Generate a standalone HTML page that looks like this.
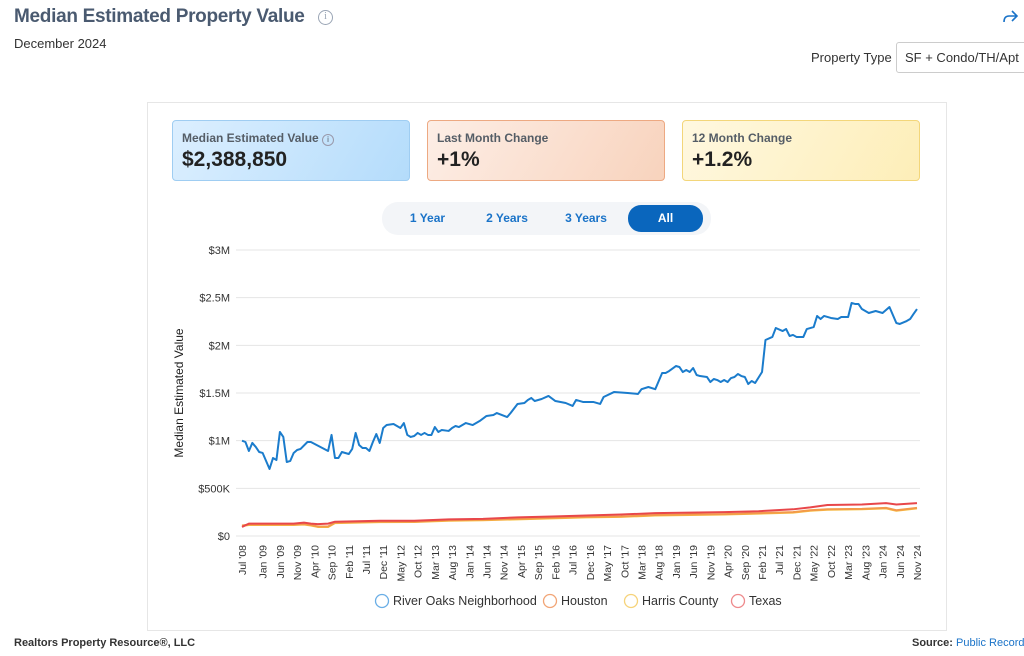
<!DOCTYPE html>
<html><head><meta charset="utf-8">
<style>
*{box-sizing:border-box;margin:0;padding:0}
body{width:1024px;height:656px;background:#fff;font-family:"Liberation Sans",sans-serif;position:relative;overflow:hidden;color:#333}
.abs{position:absolute}
.kpi{position:absolute;top:120px;width:238px;height:61px;border-radius:4px;border:1px solid}
.kpi .l{position:absolute;left:9px;top:10px;font-size:12px;font-weight:bold;color:#555d66}
.kpi .v{position:absolute;left:9px;top:27px;font-size:21px;font-weight:bold;color:#222}
.tab{position:absolute;top:206px;height:25px;line-height:25px;text-align:center;font-size:12px;font-weight:bold;color:#1a73c8;border-radius:13px}
</style></head><body>
<div class="abs" style="left:14px;top:6px;font-size:19px;letter-spacing:-0.3px;font-weight:bold;color:#4a5a70;white-space:nowrap">Median Estimated Property Value</div>
<div class="abs" style="left:318px;top:10px;width:15px;height:15px;border:1.5px solid #9aa5b5;border-radius:50%;font-size:10px;color:#9aa5b5;text-align:center;line-height:12px;font-family:'Liberation Serif',serif">i</div>
<div class="abs" style="left:14px;top:36px;font-size:13px;color:#333">December 2024</div>
<svg class="abs" style="left:1001px;top:9px" width="18" height="16" viewBox="0 0 18 16"><path d="M11 2 L16 7 L11 12 M16 7 H8 Q3 7 3 13" fill="none" stroke="#1a73c8" stroke-width="1.6"/></svg>
<div class="abs" style="left:811px;top:50px;font-size:13px;color:#333">Property Type</div>
<div class="abs" style="left:896px;top:42px;width:140px;height:31px;border:1px solid #ccc;border-radius:3px;font-size:13px;line-height:29px;padding-left:8px;color:#333;white-space:nowrap">SF + Condo/TH/Apt</div>

<div class="abs" style="left:147px;top:102px;width:800px;height:529px;border:1px solid #e6e6e6"></div>

<div class="kpi" style="left:172px;background:linear-gradient(120deg,#dcefff,#b4dcfb);border-color:#9fcdf2"><div class="l">Median Estimated Value <span style="display:inline-block;width:12px;height:12px;border:1px solid #99a;border-radius:50%;font-size:8px;text-align:center;line-height:10px;font-weight:normal">i</span></div><div class="v">$2,388,850</div></div>
<div class="kpi" style="left:427px;background:linear-gradient(120deg,#fdeee6,#f8d3bd);border-color:#eda982"><div class="l">Last Month Change</div><div class="v">+1%</div></div>
<div class="kpi" style="left:682px;background:linear-gradient(120deg,#fff8e0,#fdeeb8);border-color:#f3d67a"><div class="l">12 Month Change</div><div class="v">+1.2%</div></div>

<div class="abs" style="left:382px;top:202px;width:329px;height:33px;background:#f3f5f8;border-radius:16px"></div>
<div class="tab" style="left:395px;width:65px">1 Year</div>
<div class="tab" style="left:472px;width:70px">2 Years</div>
<div class="tab" style="left:550px;width:72px">3 Years</div>
<div class="tab" style="left:628px;width:75px;background:#0a66bd;color:#fff;top:205px;height:27px;line-height:27px">All</div>

<svg class="abs" id="chart" style="left:0;top:0" width="1024" height="656"></svg>

<div class="abs" style="left:14px;top:637px;font-size:11px;font-weight:bold;color:#333">Realtors Property Resource®, LLC</div>
<div class="abs" style="left:912px;top:637px;font-size:11px;color:#333;white-space:nowrap"><b>Source:</b> <span style="color:#1a73c8">Public Records and</span></div>

<script>
const yTicks=[0,500,1000,1500,2000,2500,3000];
const yTickLabels=["$0","$500K","$1M","$1.5M","$2M","$2.5M","$3M"];
const xTickMonths=[0,6,11,16,21,26,31,36,41,46,51,56,61,66,71,76,81,86,91,96,101,106,111,116,121,126,131,136,141,146,151,156,161,166,171,176,181,186,191,196];
const xTickLabels=["Jul '08","Jan '09","Jun '09","Nov '09","Apr '10","Sep '10","Feb '11","Jul '11","Dec '11","May '12","Oct '12","Mar '13","Aug '13","Jan '14","Jun '14","Nov '14","Apr '15","Sep '15","Feb '16","Jul '16","Dec '16","May '17","Oct '17","Mar '18","Aug '18","Jan '19","Jun '19","Nov '19","Apr '20","Sep '20","Feb '21","Jul '21","Dec '21","May '22","Oct '22","Mar '23","Aug '23","Jan '24","Jun '24","Nov '24"];
const riverMonths=[0,1,2,3,4,5,6,8,9,10,11,12,13,14,15,16,17,19,20,25,26,27,28,29,31,32,33,34,35,36,37,38,39,40,41,42,44,46,47,48,49,50,51,52,53,54,55,56,57,58,60,61,62,63,65,67,69,71,73,74,77,78,80,82,83,84,85,87,89,91,94,96,97,99,101,102,104,105,108,112,115,116,118,120,122,123,124,126,127,128,129,130,131,132,133,135,136,137,138,139,140,141,142,143,144,145,146,147,148,149,151,152,154,155,157,158,159,160,161,163,164,166,167,168,169,171,173,174,176,177,178,179,180,182,184,186,188,190,191,193,194,195,196];
const riverValues=[1000,986,892,976,934,881,871,703,818,797,1091,1039,776,787,871,902,913,986,986,892,1060,818,818,881,860,913,1081,955,923,923,892,986,1070,976,1133,1164,1175,1133,1185,1060,1039,1049,1081,1060,1081,1060,1060,1143,1091,1112,1102,1133,1154,1143,1185,1164,1206,1259,1269,1290,1248,1290,1385,1395,1427,1448,1416,1437,1469,1416,1395,1364,1427,1406,1406,1406,1385,1458,1510,1500,1490,1540,1563,1540,1710,1710,1730,1783,1773,1720,1741,1720,1762,1689,1678,1668,1615,1647,1636,1615,1636,1615,1657,1668,1699,1678,1668,1594,1626,1605,1720,2056,2088,2182,2150,2171,2098,2109,2088,2088,2171,2192,2308,2276,2308,2287,2276,2297,2297,2444,2434,2434,2381,2339,2360,2339,2402,2234,2224,2255,2276,2329,2381];
const otherMonths=[0,2,15,18,20,22,25,27,40,50,60,70,80,90,100,110,120,130,140,150,160,165,170,180,187,190,196];
const texasValues=[95,130,130,140,130,125,130,150,160,160,175,180,195,205,215,225,240,245,250,260,280,300,325,330,345,330,345];
const houstonValues=[110,120,120,125,115,100,100,140,150,150,165,170,180,190,200,205,220,225,230,240,250,270,280,285,295,270,295];
const harrisValues=[105,115,115,120,110,95,95,135,145,147,160,165,175,185,195,200,215,220,225,235,245,265,275,280,290,265,290];

const svg=document.getElementById('chart');const NS='http://www.w3.org/2000/svg';
const X0=242,X1=917,Y0=536,Y1=250,MAXM=196,MAXV=3000;
const xs=m=>X0+(X1-X0)*m/MAXM;
const ys=v=>Y0-(Y0-Y1)*v/MAXV;
function mk(t,a){const e=document.createElementNS(NS,t);for(const k in a)e.setAttribute(k,a[k]);svg.appendChild(e);return e;}
yTicks.forEach((v,i)=>{
  const g=mk('line',{x1:X0-6,x2:X1+3,y1:ys(v),y2:ys(v),stroke:'#e4e4e4','stroke-width':1});
  
  
  const t=mk('text',{x:230,y:ys(v)+4,'text-anchor':'end','font-size':11,fill:'#333','font-family':'Liberation Sans, sans-serif'});
  t.textContent=yTickLabels[i];
  
  
});
xTickMonths.forEach((m,i)=>{
  const t=mk('text',{transform:`translate(${xs(m)+4},545) rotate(-90)`,'text-anchor':'end','font-size':10.5,fill:'#333','font-family':'Liberation Sans, sans-serif'});
  t.textContent=xTickLabels[i];
  
  
});
const yt=mk('text',{transform:'translate(183,393) rotate(-90)','text-anchor':'middle','font-size':12,fill:'#222','font-family':'Liberation Sans, sans-serif'});
yt.textContent='Median Estimated Value';


function line(ms,vs,c,name){
  const p=mk('polyline',{points:ms.map((m,i)=>xs(m)+','+ys(vs[i])).join(' '),fill:'none',stroke:c,'stroke-width':2,'stroke-linejoin':'round'});
  
  
}
line(otherMonths,harrisValues,'#f7c23e','harris-county-line');
line(otherMonths,houstonValues,'#f39a4a','houston-line');
line(otherMonths,texasValues,'#e8474a','texas-line');
line(riverMonths,riverValues,'#1b7ccc','river-oaks-line');
const legend=[['River Oaks Neighborhood','#6aaee6',375],['Houston','#f2a576',543],['Harris County','#f6d37a',624],['Texas','#ee8a8c',731]];
legend.forEach(l=>{
  const c=mk('circle',{cx:l[2]+7,cy:601,r:6.5,fill:'#fff',stroke:l[1],'stroke-width':1.3});
  
  
  const t=mk('text',{x:l[2]+18,y:605,'font-size':12.5,fill:'#333','font-family':'Liberation Sans, sans-serif'});
  t.textContent=l[0];
  
  
});
</script>
</body></html>
